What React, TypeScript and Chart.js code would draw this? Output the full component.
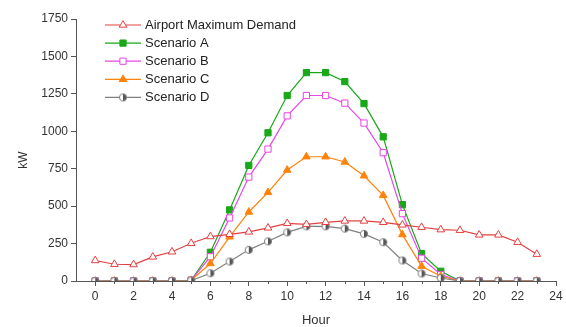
import React, { useEffect, useRef } from 'react';
import { Chart, registerables } from 'chart.js';
import { drawPoint } from 'chart.js/helpers';

Chart.register(...registerables);

const hours = [0, 1, 2, 3, 4, 5, 6, 7, 8, 9, 10, 11, 12, 13, 14, 15, 16, 17, 18, 19, 20, 21, 22, 23];
const airportMaxDemand = [137, 112, 110, 161, 195, 252, 297, 312, 328, 355, 385, 378, 392, 401, 401, 392, 375, 359, 343, 339, 308, 308, 259, 179];
const scenarioA = [0, 0, 0, 0, 0, 5, 192, 475, 772, 990, 1239, 1392, 1392, 1332, 1185, 963, 510, 183, 65, 0, 0, 0, 0, 0];
const scenarioB = [0, 0, 0, 0, 0, 5, 162, 421, 694, 881, 1103, 1239, 1239, 1188, 1055, 857, 450, 152, 43, 0, 0, 0, 0, 0];
const scenarioC = [0, 0, 0, 0, 0, 5, 117, 295, 461, 592, 741, 830, 830, 795, 703, 572, 310, 99, 32, 0, 0, 0, 0, 0];
const scenarioD = [0, 0, 0, 0, 0, 3, 52, 130, 208, 265, 325, 365, 365, 350, 315, 259, 137, 50, 20, 0, 0, 0, 0, 0];
const seriesNames = ['Airport Maximum Demand', 'Scenario A', 'Scenario B', 'Scenario C', 'Scenario D'];
const yTicks = [0, 250, 500, 750, 1000, 1250, 1500, 1750];
const xTicks = [0, 2, 4, 6, 8, 10, 12, 14, 16, 18, 20, 22, 24];

const FONT = '"Liberation Sans", Arial, sans-serif';
const AXIS = '#555555';
const TEXT = '#333333';

function halfCircle(): HTMLCanvasElement {
  const c = document.createElement('canvas');
  c.width = 10;
  c.height = 10;
  const g = c.getContext('2d')!;
  g.beginPath();
  g.arc(5, 5, 3.6, 0, Math.PI * 2);
  g.fillStyle = '#ffffff';
  g.fill();
  g.beginPath();
  g.moveTo(5, 1.4);
  g.arc(5, 5, 3.6, -Math.PI / 2, Math.PI / 2);
  g.closePath();
  g.fillStyle = '#555555';
  g.fill();
  g.beginPath();
  g.arc(5, 5, 3.6, 0, Math.PI * 2);
  g.strokeStyle = '#808080';
  g.lineWidth = 1;
  g.stroke();
  return c;
}

const legendPlugin = {
  id: 'insideLegend',
  afterDraw(chart: any) {
    const ctx = chart.ctx;
    const x0 = chart.chartArea.left + 29;
    const x1 = x0 + 36;
    const y0 = chart.chartArea.top + 6;
    ctx.save();
    chart.data.datasets.forEach((ds: any, i: number) => {
      const y = y0 + i * 18.1;
      ctx.beginPath();
      ctx.strokeStyle = ds.borderColor;
      ctx.lineWidth = 1.2;
      ctx.moveTo(x0, y);
      ctx.lineTo(x1, y);
      ctx.stroke();
      ctx.fillStyle = ds.pointBackgroundColor;
      ctx.strokeStyle = ds.pointBorderColor;
      ctx.lineWidth = 1;
      drawPoint(ctx, { pointStyle: ds.pointStyle, radius: ds.pointRadius, rotation: 0, borderWidth: 1 }, (x0 + x1) / 2, y);
      ctx.fillStyle = '#222222';
      ctx.font = `13px ${FONT}`;
      ctx.textBaseline = 'middle';
      ctx.textAlign = 'left';
      ctx.fillText(ds.label, x1 + 4, y + 0.5);
    });
    ctx.restore();
  },
};

const extrasPlugin = {
  id: 'extras',
  afterDraw(chart: any) {
    const ctx = chart.ctx;
    const xs = chart.scales.x;
    const bottom = chart.chartArea.bottom;
    ctx.save();
    ctx.strokeStyle = AXIS;
    ctx.lineWidth = 1;
    for (let v = 1; v < 24; v += 2) {
      const px = Math.round(xs.getPixelForValue(v)) + 0.5;
      ctx.beginPath();
      ctx.moveTo(px, bottom);
      ctx.lineTo(px, bottom + 3);
      ctx.stroke();
    }
    ctx.translate(24, 160);
    ctx.rotate(-Math.PI / 2);
    ctx.fillStyle = TEXT;
    ctx.font = `12px ${FONT}`;
    ctx.textAlign = 'center';
    ctx.textBaseline = 'middle';
    ctx.fillText('kW', 0, 0);
    ctx.restore();
  },
};

export default function App() {
  const ref = useRef<HTMLCanvasElement>(null);
  useEffect(() => {
    document.body.style.margin = '0';
    const red = 'rgb(228,64,64)';
    const green = 'rgb(24,168,24)';
    const magenta = 'rgb(230,70,230)';
    const orange = 'rgb(255,130,10)';
    const gray = 'rgb(128,128,128)';
    const mk = (label: string, data: number[], color: string, style: any, radius: number, fill: string, order: number) => ({
      label,
      data: hours.map((h, i) => ({ x: h, y: data[i] })),
      borderColor: color,
      backgroundColor: color,
      borderWidth: 1.2,
      pointStyle: style,
      pointRadius: radius,
      pointBorderWidth: 1,
      pointBorderColor: color,
      pointBackgroundColor: fill,
      tension: 0,
      order,
    });
    const chart = new Chart(ref.current!, {
      type: 'line',
      data: {
        datasets: [
          mk(seriesNames[0], airportMaxDemand, red, 'triangle', 4.4, '#ffffff', 0),
          mk(seriesNames[1], scenarioA, green, 'rect', 4.4, green, 4),
          mk(seriesNames[2], scenarioB, magenta, 'rect', 4.4, '#ffffff', 3),
          mk(seriesNames[3], scenarioC, orange, 'triangle', 4.4, orange, 2),
          mk(seriesNames[4], scenarioD, gray, halfCircle(), 4, '#ffffff', 1),
        ],
      },
      options: {
        responsive: false,
        animation: false,
        layout: { padding: { left: 0, right: 10, top: 19, bottom: 0 } },
        plugins: { legend: { display: false }, tooltip: { enabled: false } },
        scales: {
          x: {
            type: 'linear',
            min: -1,
            max: 24,
            afterBuildTicks: (s: any) => {
              s.ticks = xTicks.map((v) => ({ value: v }));
            },
            afterFit: (s: any) => {
              s.height = 46;
            },
            border: { display: true, color: AXIS, width: 1 },
            grid: { display: true, drawOnChartArea: false, drawTicks: true, tickLength: 5, color: AXIS, tickColor: AXIS },
            ticks: { color: TEXT, font: { family: FONT, size: 12 }, padding: 3, maxRotation: 0, autoSkip: false, callback: (v: any) => String(v) },
            title: { display: true, text: 'Hour', color: TEXT, font: { family: FONT, size: 13, lineHeight: 1 }, padding: { top: 0, bottom: 0 } },
          },
          y: {
            type: 'linear',
            min: 0,
            max: 1750,
            afterBuildTicks: (s: any) => {
              s.ticks = yTicks.map((v) => ({ value: v }));
            },
            afterFit: (s: any) => {
              s.width = 76;
            },
            border: { display: true, color: AXIS, width: 1 },
            grid: { display: true, drawOnChartArea: false, drawTicks: true, tickLength: 5, color: AXIS, tickColor: AXIS },
            ticks: { color: TEXT, font: { family: FONT, size: 12 }, padding: 3, autoSkip: false, callback: (v: any) => String(v) },
            title: { display: false },
          },
        },
      },
      plugins: [legendPlugin, extrasPlugin],
    } as any);
    return () => chart.destroy();
  }, []);
  return (
    <div style={{ width: 566, height: 327, background: '#ffffff' }}>
      <canvas ref={ref} width={566} height={327} style={{ display: 'block' }} />
    </div>
  );
}
